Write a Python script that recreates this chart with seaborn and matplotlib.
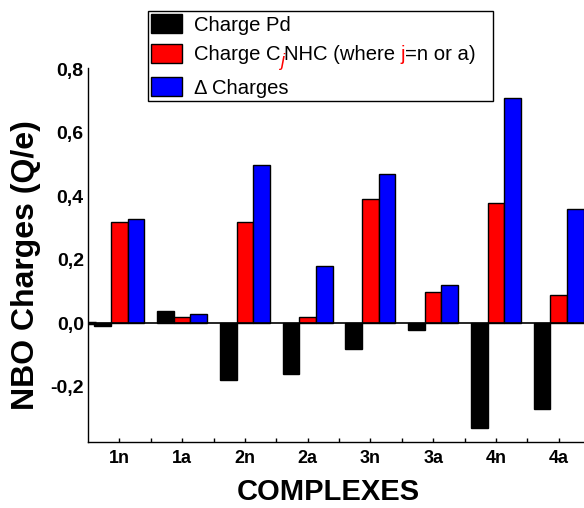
import numpy as np
import pandas as pd
import matplotlib
matplotlib.use("Agg")
import matplotlib.pyplot as plt
import matplotlib.patches as mpatches
import matplotlib.transforms as mtransforms
from matplotlib.ticker import FuncFormatter
import seaborn as sns

# Data
complexes = ['1n', '1a', '2n', '2a', '3n', '3a', '4n', '4a']
charge_pd = [-0.01, 0.04, -0.18, -0.16, -0.08, -0.02, -0.33, -0.27]
charge_c = [0.32, 0.02, 0.32, 0.02, 0.39, 0.10, 0.38, 0.09]
delta_charges = [0.33, 0.03, 0.50, 0.18, 0.47, 0.12, 0.71, 0.36]
series_names = ['Charge Pd', 'Charge CjNHC', 'Delta Charges']
series_colors = ['#000000', '#ff0000', '#0000ff']
y_ticks = [-0.2, 0.0, 0.2, 0.4, 0.6, 0.8]


def build_frame():
    """Long-form table for seaborn."""
    rows = []
    for name, vals in zip(series_names, [charge_pd, charge_c, delta_charges]):
        for c, v in zip(complexes, vals):
            rows.append({'complex': c, 'series': name, 'value': v})
    return pd.DataFrame(rows)


def draw_legend(fig, ax):
    """Legend with the coloured j in the second entry."""
    handles = [mpatches.Patch(facecolor=col, edgecolor='black', linewidth=1)
               for col in series_colors]
    # placeholder label (hidden later) reserves the room for the coloured text
    labels = ['Charge Pd', r'Charge C$_{j}$NHC (where j=n or a)   ', '\u0394 Charges']
    leg = fig.legend(handles, labels, loc='upper left',
                     bbox_to_anchor=(148 / 584, 1 - 11 / 508), borderaxespad=0,
                     fontsize=14.6, handlelength=1.53, handleheight=1.08,
                     handletextpad=0.58, labelspacing=0.42, borderpad=0.15,
                     fancybox=False, framealpha=1, edgecolor='black')
    leg.get_frame().set_linewidth(1.0)
    leg.set_zorder(5)

    fig.canvas.draw()
    renderer = fig.canvas.get_renderer()
    txt = leg.get_texts()[1]
    x0, y0 = txt.get_transform().transform(txt.get_position())
    txt.set_visible(False)

    # (text, colour, style, size factor, vertical offset px)
    pieces = [('Charge C', 'black', 'normal', 1.0, 0),
              ('j', 'red', 'italic', 0.9, -6),
              ('NHC (where ', 'black', 'normal', 1.0, 0),
              ('j', 'red', 'normal', 1.0, 0),
              ('=n or a)', 'black', 'normal', 1.0, 0)]
    x = x0
    for s, col, style, fac, dy in pieces:
        t = fig.text(x, y0 + dy, s, color=col, fontstyle=style,
                     fontsize=14.6 * fac, ha='left', va='baseline',
                     transform=mtransforms.IdentityTransform(), zorder=10)
        x += t.get_window_extent(renderer).width


def main():
    df = build_frame()

    sns.set_style('white', {'text.color': 'black', 'xtick.color': 'black',
                            'ytick.color': 'black', 'axes.labelcolor': 'black'})
    plt.rcParams['font.family'] = ['Liberation Sans', 'DejaVu Sans']

    fig = plt.figure(figsize=(5.84, 5.08), dpi=100)
    ax = fig.add_axes([88 / 584, 1 - 441.7 / 508, 502 / 584, 374 / 508])

    sns.barplot(data=df, x='complex', y='value', hue='series',
                palette=series_colors, saturation=1, width=0.8,
                edgecolor='black', linewidth=1, errorbar=None, legend=False,
                ax=ax)

    ax.axhline(0, color='black', lw=1.2, zorder=3)
    ax.set_xlim(-0.5, 7.5)
    ax.set_ylim(-0.373, 0.805)
    ax.set_yticks(y_ticks)
    ax.yaxis.set_major_formatter(FuncFormatter(lambda v, p: f'{v:.1f}'.replace('.', ',')))
    ax.set_xticks(np.arange(0.5, 7.5, 1), minor=True)

    ax.tick_params(axis='x', which='both', direction='in', length=3, width=1,
                   bottom=True, pad=6, labelsize=13, colors='black')
    ax.tick_params(axis='y', which='major', direction='in', length=0,
                   left=True, pad=3, labelsize=14, colors='black')
    for lab in ax.get_xticklabels() + ax.get_yticklabels():
        lab.set_fontweight('bold')
    # short thick stub at zero
    for tk, v in zip(ax.yaxis.get_major_ticks(), y_ticks):
        if v == 0.0:
            tk.tick1line.set_markersize(6)
            tk.tick1line.set_markeredgewidth(2.5)

    for side in ['top', 'right']:
        ax.spines[side].set_visible(False)
    for side in ['left', 'bottom']:
        ax.spines[side].set_linewidth(1.0)
        ax.spines[side].set_color('black')

    ax.set_xlabel('')
    ax.set_ylabel('')
    fig.text(26 / 584, 1 - 265 / 508, 'NBO Charges (Q/e)', rotation=90,
             ha='center', va='center', fontsize=23, fontweight='bold')
    fig.text(328 / 584, 1 - 491.5 / 508, 'COMPLEXES', ha='center', va='center',
             fontsize=21, fontweight='bold')

    draw_legend(fig, ax)
    fig.savefig('out.png', dpi=100)


if __name__ == '__main__':
    main()
